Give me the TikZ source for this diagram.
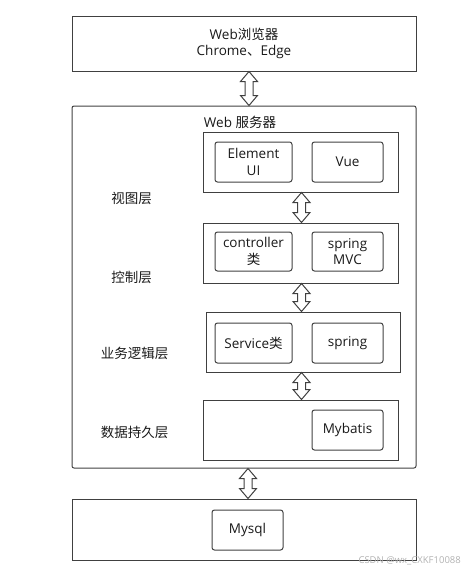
\documentclass[tikz,border=0pt]{standalone}
\usepackage{fontspec}
\setmainfont{Open Sans}
\newfontfamily\cjk{Noto Sans CJK SC}
\usetikzlibrary{calc}

% hollow two-headed arrow between two boxes, at a given x (pt)
\newcommand\fatlink[3]{%
\draw[link] let \p1=(#2.south), \p2=(#3.north) in
 (#1pt,\y1)--(#1pt+8.5pt,\y1-10pt)--(#1pt+4pt,\y1-10pt)--(#1pt+4pt,\y2+10pt)--(#1pt+8.5pt,\y2+10pt)
 --(#1pt,\y2)--(#1pt-8.5pt,\y2+10pt)--(#1pt-4pt,\y2+10pt)--(#1pt-4pt,\y1-10pt)--(#1pt-8.5pt,\y1-10pt)--cycle;}

\begin{document}
\begin{tikzpicture}[x=1pt,y=-1pt,
  every node/.style={font=\fontsize{13.5}{16.5}\selectfont,text=black!90,inner sep=0pt},
  outer/.style={draw=black!75,line width=1pt,minimum width=344pt},
  layer/.style={draw=black!75,line width=1pt,minimum height=60pt},
  part/.style={draw=black!75,line width=1pt,rounded corners=2.5pt,minimum height=40pt,align=center},
  link/.style={draw=black!75,line width=1pt,fill=white,line join=miter}]
\useasboundingbox (0,0) rectangle (461,573);

\node[outer,minimum height=55pt,align=center] (browser) at (244,43.5) {Web{\cjk 浏览器}\\Chrome{\cjk 、}Edge};
\node[outer,minimum height=362pt,rounded corners=2pt] (server) at (244,287) {};
\node (serverlbl) at (240,122) {Web {\cjk 服务器}};

\node[layer,minimum width=195pt] (view) at (300.5,162) {};
\node[part,minimum width=77pt] (element) at (253.5,162) {Element\\UI};
\node[part,minimum width=71pt] (vue) at (347.5,162) {Vue};
\node (viewlbl) at (131.5,198) {\cjk 视图层};

\node[layer,minimum width=195pt] (ctrl) at (300.5,253) {};
\node[part,minimum width=77pt,minimum height=39pt] (ctrlcls) at (253.5,251.5) {controller\\{\cjk 类}};
\node[part,minimum width=71pt,minimum height=39pt] (mvc) at (347.5,251.5) {spring\\MVC};
\node (ctrllbl) at (131.5,277) {\cjk 控制层};

\node[layer,minimum width=194pt] (biz) at (303,342) {};
\node[part,minimum width=77pt] (service) at (253.5,343) {Service{\cjk 类}};
\node[part,minimum width=71pt] (spring) at (347.5,343) {spring};
\node (bizlbl) at (134.5,353) {\cjk 业务逻辑层};

\node[layer,minimum width=195pt] (data) at (300.5,430) {};
\node[part,minimum width=71pt] (mybatis) at (347.5,430) {Mybatis};
\node (datalbl) at (134.5,432) {\cjk 数据持久层};

\node[outer,minimum height=61pt] (db) at (244,529.5) {};
\node[part,minimum width=71pt] (mysql) at (247.5,530) {Mysql};

\fatlink{249}{browser}{server}
\fatlink{301.5}{view}{ctrl}
\fatlink{301.5}{ctrl}{biz}
\fatlink{301.5}{biz}{data}
\fatlink{248}{server}{db}

\node[font=\fontsize{9.5}{11}\selectfont,text=black!30,anchor=east] (mark) at (461,561) {CSDN @wx\_CXKF10088};
\end{tikzpicture}
\end{document}
